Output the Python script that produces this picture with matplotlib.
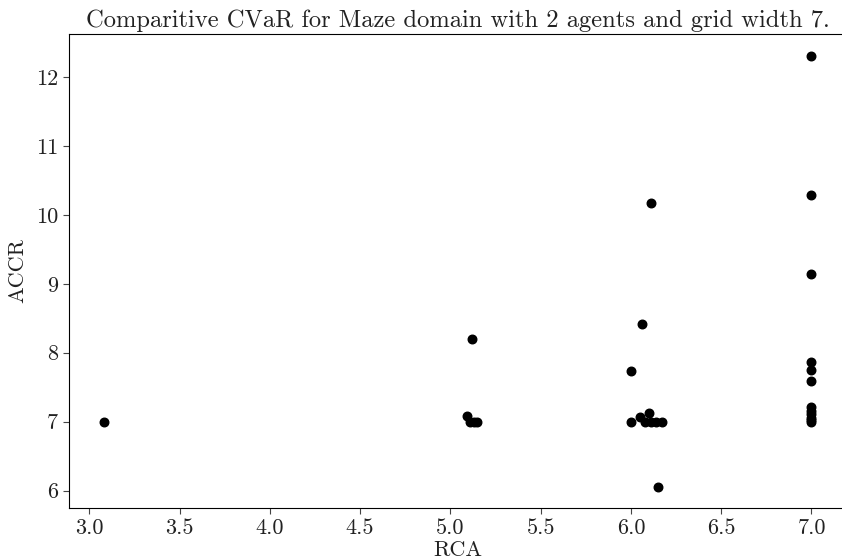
import matplotlib
matplotlib.use("Agg")
import matplotlib.pyplot as plt

plt.rcParams['font.family'] = 'cmr10'
plt.rcParams['mathtext.fontset'] = 'cm'
plt.rcParams['axes.formatter.use_mathtext'] = True

# RCA / ACCR pairs
rca = [3.08,
       5.09, 5.12, 5.11, 5.13, 5.15,
       6.0, 6.0, 6.05, 6.06, 6.08, 6.10, 6.11, 6.11, 6.14, 6.15, 6.17,
       7.0, 7.0, 7.0, 7.0, 7.0, 7.0, 7.0, 7.0, 7.0, 7.0, 7.0, 7.0]
accr = [7.0,
        7.09, 8.2, 7.0, 7.0, 7.0,
        7.0, 7.73, 7.07, 8.41, 7.0, 7.13, 10.17, 7.0, 7.0, 6.06, 7.0,
        12.3, 10.28, 9.14, 7.86, 7.75, 7.59, 7.22, 7.16, 7.11, 7.06, 7.02, 7.0]

xticks = [3.0, 3.5, 4.0, 4.5, 5.0, 5.5, 6.0, 6.5, 7.0]
yticks = [6, 7, 8, 9, 10, 11, 12]

fig = plt.figure(figsize=(8.42, 5.6), dpi=100)
ax = fig.add_axes([0.0814, 0.0929, 0.9246, 0.8464])
ax.scatter(rca, accr, s=38, color='black', zorder=3)

ax.set_xlim(2.885, 7.197)
ax.set_ylim(5.75, 12.62)
ax.set_xticks(xticks)
ax.set_xticklabels(['%.1f' % t for t in xticks])
ax.set_yticks(yticks)
ax.set_yticklabels([str(t) for t in yticks])
ax.tick_params(labelsize=16, length=4, color='#444444', labelcolor='#222222')
ax.spines['right'].set_visible(False)

ax.set_xlabel('RCA', fontsize=16, labelpad=2, color='#222222')
ax.set_ylabel('ACCR', fontsize=16, labelpad=6, color='#222222')
ax.set_title('Comparitive CVaR for Maze domain with 2 agents and grid width 7.',
             fontsize=17.7, pad=5, color='#222222')

fig.savefig('out.png', dpi=100)
